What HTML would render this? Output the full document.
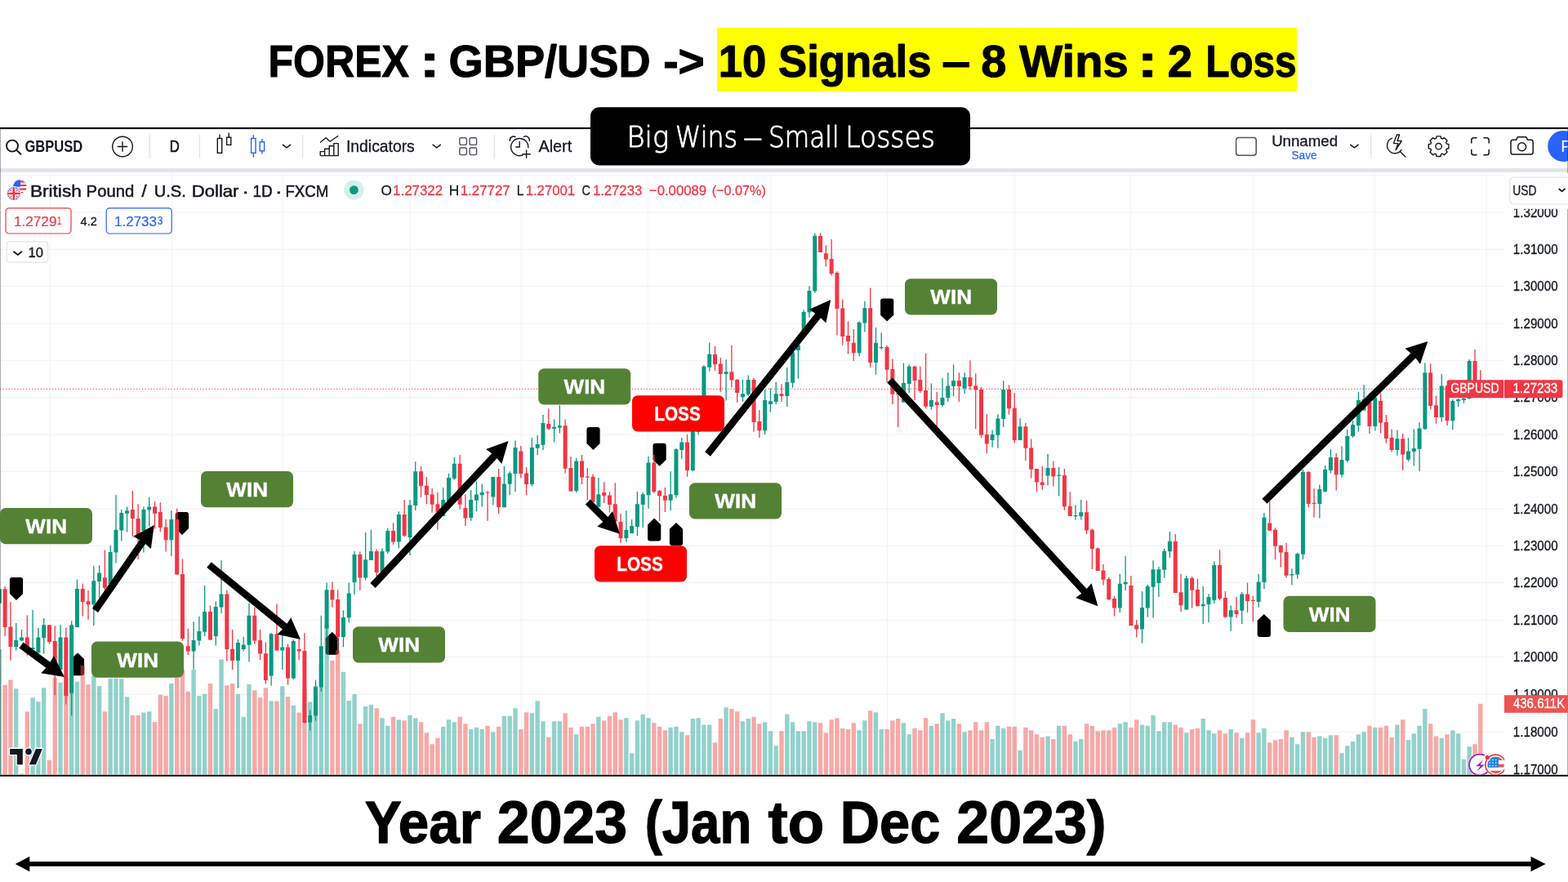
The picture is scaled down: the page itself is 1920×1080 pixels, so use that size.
<!DOCTYPE html>
<html lang="en"><head><meta charset="utf-8"><title>FOREX : GBP/USD - 10 Signals - 8 Wins : 2 Loss</title>
<style>
html,body{margin:0;padding:0;background:#fff;}
body{width:1920px;height:1080px;overflow:hidden;position:relative;font-family:"Liberation Sans",sans-serif;}
svg{position:absolute;left:0;top:0;display:block;}
svg text{font-family:"Liberation Sans",sans-serif;white-space:pre;}
</style></head><body>
<svg width="1920" height="1080" viewBox="0 0 1920 1080">
<g id="chrome-top">
<rect x="878" y="34" width="710" height="78" fill="#ffff00"/>
<text x="328.49" y="94.05" font-size="55.6" fill="#000" font-weight="700" textLength="172.53" lengthAdjust="spacingAndGlyphs" stroke="#000" stroke-width="1.1" stroke-linejoin="round">FOREX</text>
<text x="514.12" y="94.05" font-size="55.6" fill="#000" font-weight="700" textLength="24.3" lengthAdjust="spacingAndGlyphs" stroke="#000" stroke-width="1.1" stroke-linejoin="round">:</text>
<text x="549.58" y="94.05" font-size="55.6" fill="#000" font-weight="700" textLength="246.97" lengthAdjust="spacingAndGlyphs" stroke="#000" stroke-width="1.1" stroke-linejoin="round">GBP/USD</text>
<text x="812.28" y="94.05" font-size="55.6" fill="#000" font-weight="700" textLength="50.54" lengthAdjust="spacingAndGlyphs" stroke="#000" stroke-width="1.1" stroke-linejoin="round">-&gt;</text>
<text x="879.76" y="94.05" font-size="55.6" fill="#000" font-weight="700" textLength="260.77" lengthAdjust="spacingAndGlyphs" stroke="#000" stroke-width="1.1" stroke-linejoin="round">10 Signals</text>
<text x="1153.16" y="94.05" font-size="55.6" fill="#000" font-weight="700" textLength="35.1" lengthAdjust="spacingAndGlyphs" stroke="#000" stroke-width="1.1" stroke-linejoin="round">–</text>
<text x="1201.37" y="94.05" font-size="55.6" fill="#000" font-weight="700" textLength="180.27" lengthAdjust="spacingAndGlyphs" stroke="#000" stroke-width="1.1" stroke-linejoin="round">8 Wins</text>
<text x="1393.12" y="94.05" font-size="55.6" fill="#000" font-weight="700" textLength="24.3" lengthAdjust="spacingAndGlyphs" stroke="#000" stroke-width="1.1" stroke-linejoin="round">:</text>
<text x="1429.78" y="94.05" font-size="55.6" fill="#000" font-weight="700" textLength="30.27" lengthAdjust="spacingAndGlyphs" stroke="#000" stroke-width="1.1" stroke-linejoin="round">2</text>
<text x="1476.46" y="94.05" font-size="55.6" fill="#000" font-weight="700" textLength="111.05" lengthAdjust="spacingAndGlyphs" stroke="#000" stroke-width="1.1" stroke-linejoin="round">Loss</text>
<text x="446.64" y="1032.35" font-size="72" fill="#000" font-weight="700" textLength="142.41" lengthAdjust="spacingAndGlyphs" stroke="#000" stroke-width="1.3" stroke-linejoin="round">Year</text>
<text x="608.82" y="1032.35" font-size="72" fill="#000" font-weight="700" textLength="159.31" lengthAdjust="spacingAndGlyphs" stroke="#000" stroke-width="1.3" stroke-linejoin="round">2023</text>
<text x="789.63" y="1032.35" font-size="72" fill="#000" font-weight="700" textLength="130.61" lengthAdjust="spacingAndGlyphs" stroke="#000" stroke-width="1.3" stroke-linejoin="round">(Jan</text>
<text x="940.42" y="1032.35" font-size="72" fill="#000" font-weight="700" textLength="68.76" lengthAdjust="spacingAndGlyphs" stroke="#000" stroke-width="1.3" stroke-linejoin="round">to</text>
<text x="1028.81" y="1032.35" font-size="72" fill="#000" font-weight="700" textLength="122.51" lengthAdjust="spacingAndGlyphs" stroke="#000" stroke-width="1.3" stroke-linejoin="round">Dec</text>
<text x="1171.32" y="1032.35" font-size="72" fill="#000" font-weight="700" textLength="183.45" lengthAdjust="spacingAndGlyphs" stroke="#000" stroke-width="1.3" stroke-linejoin="round">2023)</text>
<path d="M18.7 1058 L36.3 1048.8 V1055.1 H1874.5 V1048.8 L1892.6 1058 L1874.5 1067.2 V1060.8 H36.3 V1067.2z" fill="#000"/>
<rect x="0" y="157" width="1920" height="49.3" fill="#fff"/>
<rect x="0" y="206.2" width="1920" height="4.6" fill="#e0e3eb"/>
<rect x="0" y="156" width="1920" height="2.1" fill="#000"/>
<path d="M183.2 165 V194 M244.5 165 V194 M370.5 165 V194 M605.3 165 V194 M1678.6 165 V194" stroke="#e0e3eb" stroke-width="1.3" fill="none"/>
<g fill="none" stroke="#131722" stroke-width="1.9" stroke-linecap="round"><circle cx="15" cy="178.6" r="7"/><path d="M20.2 183.8 L25.4 188.7"/></g>
<text x="30.44" y="186.1" font-size="20.2" fill="#131722" font-weight="700" textLength="70.84" lengthAdjust="spacingAndGlyphs">GBPUSD</text>
<g fill="none" stroke="#131722" stroke-width="1.4"><circle cx="150" cy="179.5" r="12.3"/><path d="M150 173.3 V185.7 M143.8 179.5 H156.2"/></g>
<text x="207.82" y="185.75" font-size="20.2" fill="#131722" textLength="12.02" lengthAdjust="spacingAndGlyphs" stroke="#131722" stroke-width="0.7" stroke-linejoin="round">D</text>
<g fill="none" stroke="#131722" stroke-width="1.4"><rect x="266.3" y="169.5" width="5.4" height="17.8"/><path d="M269 164.8 V169.5"/><rect x="277.6" y="168.2" width="5.2" height="9.2"/><path d="M280.2 162.5 V168.2"/></g>
<g fill="none" stroke="#2962ff" stroke-width="1.4"><rect x="307.6" y="169.5" width="5.4" height="17.8"/><path d="M310.3 165.3 V169.5 M310.3 187.3 V192.5"/><rect x="318.2" y="173.8" width="5.4" height="11"/><path d="M320.9 170 V173.8 M320.9 184.8 V188.5"/></g>
<path d="M346.4 177.3 l4.6 3.51 l4.6 -3.51" fill="none" stroke="#131722" stroke-width="1.5" stroke-linecap="round" stroke-linejoin="round"/>
<g fill="none" stroke="#131722" stroke-width="1.4" stroke-linejoin="round"><path d="M392 174.5 L399 168.8 L404.2 173.3 L414.2 166.3"/><path d="M392.2 190.6 V185.6 H397.6 V190.6 M397.6 190.6 V182.2 H403.2 V190.6 M403.2 190.6 V178.8 H408.8 V190.6 M408.8 190.6 V175.6 H414.2 V190.6 H392.2"/></g>
<text x="424.01" y="186.35" font-size="20.2" fill="#131722" textLength="83.73" lengthAdjust="spacingAndGlyphs" stroke="#131722" stroke-width="0.3" stroke-linejoin="round">Indicators</text>
<path d="M530.1 177.3 l4.6 3.51 l4.6 -3.51" fill="none" stroke="#131722" stroke-width="1.5" stroke-linecap="round" stroke-linejoin="round"/>
<g fill="none" stroke="#50535e" stroke-width="1.4"><rect x="562.8" y="168.8" width="8.6" height="8.6" rx="2"/><rect x="562.8" y="181" width="8.6" height="8.6" rx="2"/><rect x="575" y="168.8" width="8.6" height="8.6" rx="2"/><rect x="575" y="181" width="8.6" height="8.6" rx="2"/></g>
<g fill="none" stroke="#131722" stroke-width="1.4" stroke-linecap="round"><path d="M640 190 A10.6 10.6 0 1 1 646.8 180.8"/><path d="M624.4 172.4 A4.6 4.6 0 0 1 631 167.5 M641.4 167.5 A4.6 4.6 0 0 1 648.2 172.4"/><path d="M636.2 173.4 V180 H631.8"/><path d="M644.6 184 V193.4 M639.9 188.7 H649.3"/></g>
<text x="659.45" y="186.35" font-size="20.2" fill="#131722" textLength="40.72" lengthAdjust="spacingAndGlyphs" stroke="#131722" stroke-width="0.3" stroke-linejoin="round">Alert</text>
<rect x="1513.6" y="168.6" width="24.6" height="21.6" rx="3.2" fill="none" stroke="#50535e" stroke-width="1.5"/>
<text x="1557.15" y="179.25" font-size="18.6" fill="#131722" textLength="80.88" lengthAdjust="spacingAndGlyphs" stroke="#131722" stroke-width="0.3" stroke-linejoin="round">Unnamed</text>
<text x="1581.48" y="194.8" font-size="14" fill="#2962ff" textLength="31.22" lengthAdjust="spacingAndGlyphs" stroke="#2962ff" stroke-width="0.2" stroke-linejoin="round">Save</text>
<path d="M1653.8 177.3 l4.6 3.51 l4.6 -3.51" fill="none" stroke="#131722" stroke-width="1.5" stroke-linecap="round" stroke-linejoin="round"/>
<g fill="none" stroke="#131722" stroke-width="1.4" stroke-linecap="round" stroke-linejoin="round"><path d="M1704.5 169.2 A9.6 9.6 0 1 0 1716 183.6"/><path d="M1714.4 185.6 L1720.8 192"/><path d="M1710.5 165 L1706.5 175.6 H1712 L1709.2 183.5 L1716.2 172.5 H1711 L1713.6 165z"/></g>
<g fill="none" stroke="#131722" stroke-width="1.4" stroke-linejoin="round"><path d="M1759.1 166.85 L1764.1 166.85 L1764.61 169.46 L1766.36 170.18 L1768.56 168.7 L1772.1 172.24 L1770.62 174.44 L1771.34 176.18 L1773.95 176.7 L1773.95 181.7 L1771.34 182.21 L1770.62 183.96 L1772.1 186.16 L1768.56 189.7 L1766.36 188.22 L1764.62 188.94 L1764.1 191.55 L1759.1 191.55 L1758.59 188.94 L1756.84 188.22 L1754.64 189.7 L1751.1 186.16 L1752.58 183.96 L1751.86 182.22 L1749.25 181.7 L1749.25 176.7 L1751.86 176.19 L1752.58 174.44 L1751.1 172.24 L1754.64 168.7 L1756.84 170.18 L1758.58 169.46z"/><circle cx="1761.6" cy="179.2" r="3.7"/></g>
<path d="M1801.8 175 V171.6 Q1801.8 168.8 1804.6 168.8 H1808 M1817 168.8 H1820.4 Q1823.2 168.8 1823.2 171.6 V175 M1823.2 183.6 V187 Q1823.2 189.8 1820.4 189.8 H1817 M1808 189.8 H1804.6 Q1801.8 189.8 1801.8 187 V183.6" fill="none" stroke="#131722" stroke-width="1.5" stroke-linecap="round"/>
<g fill="none" stroke="#131722" stroke-width="1.5" stroke-linejoin="round"><path d="M1850 174 Q1850 171.2 1852.8 171.2 H1856.6 L1858.4 167.8 H1868.8 L1870.6 171.2 H1874.4 Q1877.2 171.2 1877.2 174 V186.2 Q1877.2 189 1874.4 189 H1852.8 Q1850 189 1850 186.2z"/><circle cx="1863.6" cy="179.8" r="5"/></g>
<circle cx="1914.2" cy="178.9" r="19" fill="#2962ff"/>
<text x="1911.2" y="185.9" font-size="19.8" fill="#fff">P</text>
</g>
<g id="chart">
<rect x="0" y="211" width="1920" height="739" fill="#ffffff"/>
<path d="M0 942 H1842 M0 896.4 H1842 M0 850.1 H1842 M0 804.5 H1842 M0 759.4 H1842 M0 713.5 H1842 M0 668.3 H1842 M0 623 H1842 M0 577.3 H1842 M0 532.2 H1842 M0 486.5 H1842 M0 441.3 H1842 M0 396.2 H1842 M0 350.6 H1842 M0 305.4 H1842 M0 260 H1842 M0 214.4 H1842 M61.1 211 V949 M210.6 211 V949 M346.3 211 V949 M502.2 211 V949 M638.1 211 V949 M793.2 211 V949 M943.8 211 V949 M1086.5 211 V949 M1242.3 211 V949 M1384.4 211 V949 M1534.4 211 V949 M1683.7 211 V949 M1820 211 V949" stroke="#f2f2f4" stroke-width="1" fill="none"/>
<path d="M11.9 710 Q11.9 707 14.9 707 H25.1 Q28.1 707 28.1 710 V727.1 L20 734.9 L11.9 727.1z M214.9 630 Q214.9 627 217.9 627 H228.1 Q231.1 627 231.1 630 V647.1 L223 654.9 L214.9 647.1z M86.9 824.2 Q86.9 827.2 89.9 827.2 H100.1 Q103.1 827.2 103.1 824.2 V807.1 L95 799.3 L86.9 807.1z M398.6 798.7 Q398.6 801.7 401.6 801.7 H411.8 Q414.8 801.7 414.8 798.7 V781.6 L406.7 773.8 L398.6 781.6z M718.4 526 Q718.4 523 721.4 523 H731.6 Q734.6 523 734.6 526 V543.1 L726.5 550.9 L718.4 543.1z M799.5 545.8 Q799.5 542.8 802.5 542.8 H812.7 Q815.7 542.8 815.7 545.8 V562.9 L807.6 570.7 L799.5 562.9z M793.1 659.5 Q793.1 662.5 796.1 662.5 H806.3 Q809.3 662.5 809.3 659.5 V642.4 L801.2 634.6 L793.1 642.4z M819.9 664.9 Q819.9 667.9 822.9 667.9 H833.1 Q836.1 667.9 836.1 664.9 V647.8 L828 640 L819.9 647.8z M1078.1 368.6 Q1078.1 365.6 1081.1 365.6 H1091.3 Q1094.3 365.6 1094.3 368.6 V385.7 L1086.2 393.5 L1078.1 385.7z M1539.7 776.9 Q1539.7 779.9 1542.7 779.9 H1552.9 Q1555.9 779.9 1555.9 776.9 V759.8 L1547.8 752 L1539.7 759.8z" fill="#000"/>
<path d="M-3.36 795 h5.4 V948.6 h-5.4 z M17.02 843.33 h5.4 V948.6 h-5.4 z M23.81 947.5 h5.4 V948.6 h-5.4 z M37.39 854.17 h5.4 V948.6 h-5.4 z M44.18 859.17 h5.4 V948.6 h-5.4 z M50.98 842.17 h5.4 V948.6 h-5.4 z M71.35 835.83 h5.4 V948.6 h-5.4 z M84.94 830.83 h5.4 V948.6 h-5.4 z M91.73 834.67 h5.4 V948.6 h-5.4 z M112.1 827.5 h5.4 V948.6 h-5.4 z M118.9 840 h5.4 V948.6 h-5.4 z M132.48 830.67 h5.4 V948.6 h-5.4 z M139.27 830.67 h5.4 V948.6 h-5.4 z M146.06 831.33 h5.4 V948.6 h-5.4 z M152.86 853.33 h5.4 V948.6 h-5.4 z M173.23 872.5 h5.4 V948.6 h-5.4 z M180.02 871.33 h5.4 V948.6 h-5.4 z M207.19 837 h5.4 V948.6 h-5.4 z M234.36 819.67 h5.4 V948.6 h-5.4 z M241.15 852 h5.4 V948.6 h-5.4 z M247.94 849.67 h5.4 V948.6 h-5.4 z M261.53 868 h5.4 V948.6 h-5.4 z M268.32 807.5 h5.4 V948.6 h-5.4 z M288.7 849.67 h5.4 V948.6 h-5.4 z M295.49 877.83 h5.4 V948.6 h-5.4 z M302.28 838 h5.4 V948.6 h-5.4 z M329.45 858.38 h5.4 V948.6 h-5.4 z M343.03 840.25 h5.4 V948.6 h-5.4 z M356.62 864 h5.4 V948.6 h-5.4 z M376.99 859.38 h5.4 V948.6 h-5.4 z M383.78 840 h5.4 V948.6 h-5.4 z M390.58 813.12 h5.4 V948.6 h-5.4 z M397.37 765 h5.4 V948.6 h-5.4 z M417.74 822.75 h5.4 V948.6 h-5.4 z M424.54 858.12 h5.4 V948.6 h-5.4 z M431.33 850 h5.4 V948.6 h-5.4 z M444.91 865 h5.4 V948.6 h-5.4 z M451.7 862.83 h5.4 V948.6 h-5.4 z M465.29 879.17 h5.4 V948.6 h-5.4 z M472.08 888.67 h5.4 V948.6 h-5.4 z M485.66 881.17 h5.4 V948.6 h-5.4 z M499.25 875.83 h5.4 V948.6 h-5.4 z M506.04 879.17 h5.4 V948.6 h-5.4 z M540 889.67 h5.4 V948.6 h-5.4 z M546.79 881.17 h5.4 V948.6 h-5.4 z M553.58 884.33 h5.4 V948.6 h-5.4 z M573.96 893 h5.4 V948.6 h-5.4 z M580.75 890.83 h5.4 V948.6 h-5.4 z M587.54 893 h5.4 V948.6 h-5.4 z M601.13 896.17 h5.4 V948.6 h-5.4 z M614.71 876.83 h5.4 V948.6 h-5.4 z M621.5 876.83 h5.4 V948.6 h-5.4 z M628.3 867.17 h5.4 V948.6 h-5.4 z M648.67 873.33 h5.4 V948.6 h-5.4 z M655.46 858.33 h5.4 V948.6 h-5.4 z M662.26 883.17 h5.4 V948.6 h-5.4 z M675.84 883.17 h5.4 V948.6 h-5.4 z M682.63 883.17 h5.4 V948.6 h-5.4 z M703.01 899.33 h5.4 V948.6 h-5.4 z M730.18 877.83 h5.4 V948.6 h-5.4 z M764.14 879.17 h5.4 V948.6 h-5.4 z M770.93 922.17 h5.4 V948.6 h-5.4 z M777.72 882.17 h5.4 V948.6 h-5.4 z M784.51 874.67 h5.4 V948.6 h-5.4 z M791.3 879.17 h5.4 V948.6 h-5.4 z M818.47 890.83 h5.4 V948.6 h-5.4 z M825.26 889.67 h5.4 V948.6 h-5.4 z M832.06 896.17 h5.4 V948.6 h-5.4 z M845.64 880 h5.4 V948.6 h-5.4 z M852.43 879.17 h5.4 V948.6 h-5.4 z M859.22 887.5 h5.4 V948.6 h-5.4 z M866.02 887.5 h5.4 V948.6 h-5.4 z M886.39 866.17 h5.4 V948.6 h-5.4 z M906.77 883.17 h5.4 V948.6 h-5.4 z M913.56 880 h5.4 V948.6 h-5.4 z M933.94 884.33 h5.4 V948.6 h-5.4 z M940.73 895.17 h5.4 V948.6 h-5.4 z M947.52 913.33 h5.4 V948.6 h-5.4 z M961.1 874.67 h5.4 V948.6 h-5.4 z M967.9 884.33 h5.4 V948.6 h-5.4 z M974.69 895.17 h5.4 V948.6 h-5.4 z M981.48 895.17 h5.4 V948.6 h-5.4 z M988.27 883.17 h5.4 V948.6 h-5.4 z M995.06 884.33 h5.4 V948.6 h-5.4 z M1049.4 894.17 h5.4 V948.6 h-5.4 z M1056.19 882.17 h5.4 V948.6 h-5.4 z M1069.78 872.33 h5.4 V948.6 h-5.4 z M1076.57 893 h5.4 V948.6 h-5.4 z M1103.74 885.33 h5.4 V948.6 h-5.4 z M1110.53 899.33 h5.4 V948.6 h-5.4 z M1137.7 888.67 h5.4 V948.6 h-5.4 z M1151.28 873.33 h5.4 V948.6 h-5.4 z M1158.07 882.17 h5.4 V948.6 h-5.4 z M1164.86 880 h5.4 V948.6 h-5.4 z M1178.45 896.17 h5.4 V948.6 h-5.4 z M1212.41 905 h5.4 V948.6 h-5.4 z M1219.2 888.67 h5.4 V948.6 h-5.4 z M1225.99 891.83 h5.4 V948.6 h-5.4 z M1246.37 918.83 h5.4 V948.6 h-5.4 z M1280.33 901.5 h5.4 V948.6 h-5.4 z M1293.91 888.67 h5.4 V948.6 h-5.4 z M1314.29 908 h5.4 V948.6 h-5.4 z M1321.08 905 h5.4 V948.6 h-5.4 z M1368.62 886.33 h5.4 V948.6 h-5.4 z M1375.42 884.33 h5.4 V948.6 h-5.4 z M1395.79 887.5 h5.4 V948.6 h-5.4 z M1402.58 888.67 h5.4 V948.6 h-5.4 z M1409.38 875.83 h5.4 V948.6 h-5.4 z M1416.17 895.17 h5.4 V948.6 h-5.4 z M1422.96 884.33 h5.4 V948.6 h-5.4 z M1429.75 884.33 h5.4 V948.6 h-5.4 z M1450.13 897.17 h5.4 V948.6 h-5.4 z M1470.5 880 h5.4 V948.6 h-5.4 z M1477.3 894.17 h5.4 V948.6 h-5.4 z M1484.09 898.33 h5.4 V948.6 h-5.4 z M1504.46 893 h5.4 V948.6 h-5.4 z M1518.05 903.83 h5.4 V948.6 h-5.4 z M1538.42 897.17 h5.4 V948.6 h-5.4 z M1545.22 891.83 h5.4 V948.6 h-5.4 z M1579.18 902.67 h5.4 V948.6 h-5.4 z M1585.97 911.17 h5.4 V948.6 h-5.4 z M1592.76 896.17 h5.4 V948.6 h-5.4 z M1613.14 901.5 h5.4 V948.6 h-5.4 z M1619.93 903.83 h5.4 V948.6 h-5.4 z M1626.72 900.33 h5.4 V948.6 h-5.4 z M1640.3 922.17 h5.4 V948.6 h-5.4 z M1647.1 913.33 h5.4 V948.6 h-5.4 z M1653.89 908 h5.4 V948.6 h-5.4 z M1660.68 899.33 h5.4 V948.6 h-5.4 z M1667.47 896.17 h5.4 V948.6 h-5.4 z M1681.06 890.83 h5.4 V948.6 h-5.4 z M1708.22 887.5 h5.4 V948.6 h-5.4 z M1721.81 906.17 h5.4 V948.6 h-5.4 z M1728.6 898.33 h5.4 V948.6 h-5.4 z M1735.39 888.67 h5.4 V948.6 h-5.4 z M1742.18 868 h5.4 V948.6 h-5.4 z M1762.56 903.83 h5.4 V948.6 h-5.4 z M1776.14 894.17 h5.4 V948.6 h-5.4 z M1782.94 898.33 h5.4 V948.6 h-5.4 z M1789.73 929.67 h5.4 V948.6 h-5.4 z M1796.52 914.33 h5.4 V948.6 h-5.4 z" fill="rgba(38,166,154,0.5)"/>
<path d="M3.43 838.83 h5.4 V948.6 h-5.4 z M10.22 832.5 h5.4 V948.6 h-5.4 z M30.6 871.17 h5.4 V948.6 h-5.4 z M57.77 930.83 h5.4 V948.6 h-5.4 z M64.56 830 h5.4 V948.6 h-5.4 z M78.14 829.17 h5.4 V948.6 h-5.4 z M98.52 815 h5.4 V948.6 h-5.4 z M105.31 838 h5.4 V948.6 h-5.4 z M125.69 871.17 h5.4 V948.6 h-5.4 z M159.65 875.83 h5.4 V948.6 h-5.4 z M166.44 875.83 h5.4 V948.6 h-5.4 z M186.82 884.17 h5.4 V948.6 h-5.4 z M193.61 850.83 h5.4 V948.6 h-5.4 z M200.4 852 h5.4 V948.6 h-5.4 z M213.98 830 h5.4 V948.6 h-5.4 z M220.78 820 h5.4 V948.6 h-5.4 z M227.57 846.67 h5.4 V948.6 h-5.4 z M254.74 837 h5.4 V948.6 h-5.4 z M275.11 839.17 h5.4 V948.6 h-5.4 z M281.9 837 h5.4 V948.6 h-5.4 z M309.07 845.33 h5.4 V948.6 h-5.4 z M315.86 854.17 h5.4 V948.6 h-5.4 z M322.66 842.25 h5.4 V948.6 h-5.4 z M336.24 858.38 h5.4 V948.6 h-5.4 z M349.82 853.12 h5.4 V948.6 h-5.4 z M363.41 872.5 h5.4 V948.6 h-5.4 z M370.2 843.75 h5.4 V948.6 h-5.4 z M404.16 808.75 h5.4 V948.6 h-5.4 z M410.95 796.25 h5.4 V948.6 h-5.4 z M438.12 886.25 h5.4 V948.6 h-5.4 z M458.5 867.17 h5.4 V948.6 h-5.4 z M478.87 877.83 h5.4 V948.6 h-5.4 z M492.46 882.17 h5.4 V948.6 h-5.4 z M512.83 884.33 h5.4 V948.6 h-5.4 z M519.62 897.17 h5.4 V948.6 h-5.4 z M526.42 911.17 h5.4 V948.6 h-5.4 z M533.21 903.83 h5.4 V948.6 h-5.4 z M560.38 877.83 h5.4 V948.6 h-5.4 z M567.17 886.33 h5.4 V948.6 h-5.4 z M594.34 888.67 h5.4 V948.6 h-5.4 z M607.92 889.67 h5.4 V948.6 h-5.4 z M635.09 893 h5.4 V948.6 h-5.4 z M641.88 872.33 h5.4 V948.6 h-5.4 z M669.05 902.67 h5.4 V948.6 h-5.4 z M689.42 873.33 h5.4 V948.6 h-5.4 z M696.22 890.83 h5.4 V948.6 h-5.4 z M709.8 889.67 h5.4 V948.6 h-5.4 z M716.59 889.67 h5.4 V948.6 h-5.4 z M723.38 886.33 h5.4 V948.6 h-5.4 z M736.97 882.17 h5.4 V948.6 h-5.4 z M743.76 876.83 h5.4 V948.6 h-5.4 z M750.55 872.33 h5.4 V948.6 h-5.4 z M757.34 881.17 h5.4 V948.6 h-5.4 z M798.1 885.33 h5.4 V948.6 h-5.4 z M804.89 889.67 h5.4 V948.6 h-5.4 z M811.68 894.17 h5.4 V948.6 h-5.4 z M838.85 900.33 h5.4 V948.6 h-5.4 z M872.81 909.17 h5.4 V948.6 h-5.4 z M879.6 880 h5.4 V948.6 h-5.4 z M893.18 868 h5.4 V948.6 h-5.4 z M899.98 871.33 h5.4 V948.6 h-5.4 z M920.35 877.83 h5.4 V948.6 h-5.4 z M927.14 886.33 h5.4 V948.6 h-5.4 z M954.31 895.17 h5.4 V948.6 h-5.4 z M1001.86 885.33 h5.4 V948.6 h-5.4 z M1008.65 897.17 h5.4 V948.6 h-5.4 z M1015.44 881.17 h5.4 V948.6 h-5.4 z M1022.23 879.17 h5.4 V948.6 h-5.4 z M1029.02 891.83 h5.4 V948.6 h-5.4 z M1035.82 893 h5.4 V948.6 h-5.4 z M1042.61 885.33 h5.4 V948.6 h-5.4 z M1062.98 870.17 h5.4 V948.6 h-5.4 z M1083.36 893 h5.4 V948.6 h-5.4 z M1090.15 882.17 h5.4 V948.6 h-5.4 z M1096.94 880 h5.4 V948.6 h-5.4 z M1117.32 891.83 h5.4 V948.6 h-5.4 z M1124.11 894.17 h5.4 V948.6 h-5.4 z M1130.9 879.17 h5.4 V948.6 h-5.4 z M1144.49 886.33 h5.4 V948.6 h-5.4 z M1171.66 886.33 h5.4 V948.6 h-5.4 z M1185.24 894.17 h5.4 V948.6 h-5.4 z M1192.03 884.33 h5.4 V948.6 h-5.4 z M1198.82 894.17 h5.4 V948.6 h-5.4 z M1205.62 884.33 h5.4 V948.6 h-5.4 z M1232.78 889.67 h5.4 V948.6 h-5.4 z M1239.58 889.67 h5.4 V948.6 h-5.4 z M1253.16 890.83 h5.4 V948.6 h-5.4 z M1259.95 894.17 h5.4 V948.6 h-5.4 z M1266.74 899.33 h5.4 V948.6 h-5.4 z M1273.54 902.67 h5.4 V948.6 h-5.4 z M1287.12 905 h5.4 V948.6 h-5.4 z M1300.7 888.67 h5.4 V948.6 h-5.4 z M1307.5 899.33 h5.4 V948.6 h-5.4 z M1327.87 886.33 h5.4 V948.6 h-5.4 z M1334.66 888.67 h5.4 V948.6 h-5.4 z M1341.46 895.17 h5.4 V948.6 h-5.4 z M1348.25 894.17 h5.4 V948.6 h-5.4 z M1355.04 894.17 h5.4 V948.6 h-5.4 z M1361.83 890.83 h5.4 V948.6 h-5.4 z M1382.21 890.83 h5.4 V948.6 h-5.4 z M1389 881.17 h5.4 V948.6 h-5.4 z M1436.54 887.5 h5.4 V948.6 h-5.4 z M1443.34 890.83 h5.4 V948.6 h-5.4 z M1456.92 893 h5.4 V948.6 h-5.4 z M1463.71 891.83 h5.4 V948.6 h-5.4 z M1490.88 894.17 h5.4 V948.6 h-5.4 z M1497.67 898.33 h5.4 V948.6 h-5.4 z M1511.26 897.17 h5.4 V948.6 h-5.4 z M1524.84 897.17 h5.4 V948.6 h-5.4 z M1531.63 881.17 h5.4 V948.6 h-5.4 z M1552.01 909.17 h5.4 V948.6 h-5.4 z M1558.8 906.17 h5.4 V948.6 h-5.4 z M1565.59 905 h5.4 V948.6 h-5.4 z M1572.38 894.17 h5.4 V948.6 h-5.4 z M1599.55 896.17 h5.4 V948.6 h-5.4 z M1606.34 902.67 h5.4 V948.6 h-5.4 z M1633.51 900.33 h5.4 V948.6 h-5.4 z M1674.26 888.67 h5.4 V948.6 h-5.4 z M1687.85 890.83 h5.4 V948.6 h-5.4 z M1694.64 888.67 h5.4 V948.6 h-5.4 z M1701.43 902.67 h5.4 V948.6 h-5.4 z M1715.02 881.17 h5.4 V948.6 h-5.4 z M1748.98 886.33 h5.4 V948.6 h-5.4 z M1755.77 901.5 h5.4 V948.6 h-5.4 z M1769.35 899.33 h5.4 V948.6 h-5.4 z M1803.31 911.17 h5.4 V948.6 h-5.4 z M1810.1 861.67 h5.4 V948.6 h-5.4 z" fill="rgba(239,83,80,0.5)"/>
<path d="M0 476.3 H1772" stroke="#f23645" stroke-width="1.1" stroke-dasharray="1.3 2.25" fill="none"/>
<path d="M-0.66 718.75 V741.25 M19.72 763.12 V796.5 M26.51 771 V785 M40.09 747.12 V795 M46.88 768.75 V799.38 M53.68 756.88 V800.62 M74.05 765.25 V820 M87.64 760.25 V876.25 M94.43 709.38 V768.12 M114.8 693.12 V766 M121.6 692.25 V732.5 M135.18 668.12 V715 M141.97 606.25 V689.38 M148.76 624 V662.5 M155.56 620.38 V651.62 M175.93 620.38 V676.62 M182.72 608.75 V645 M209.89 625 V680.88 M237.06 761.25 V819.38 M243.85 754.75 V790.62 M250.64 716.88 V779 M264.23 736.5 V790.62 M271.02 686.25 V751 M291.4 782.75 V842.5 M298.19 779.38 V797.5 M304.98 738.75 V810.62 M332.15 775 V839.38 M345.73 777.5 V820 M359.32 783.12 V831.88 M379.69 869.38 V894.38 M386.48 832.5 V882.5 M393.28 753.75 V846.88 M400.07 713.5 V780 M420.44 747.25 V791.88 M427.24 713.5 V762.5 M434.03 675 V728.12 M447.61 651.88 V710.62 M454.4 648.75 V686 M467.99 671.5 V702.5 M474.78 646.5 V677.88 M488.36 626.25 V671.25 M501.95 612.12 V680 M508.74 565.25 V625 M542.7 596.88 V631.88 M549.49 579.38 V615 M556.28 560 V587.75 M576.66 600.25 V637.75 M583.45 589.38 V625.88 M590.24 592.5 V620.38 M603.83 584 V618.5 M617.41 571 V621.25 M624.2 577.25 V606.25 M631 539.38 V601.88 M651.37 536.25 V595.62 M658.16 533.12 V556.88 M664.96 508.12 V551 M678.54 513.5 V541.5 M685.33 496.25 V530.62 M705.71 561 V603.12 M732.88 585 V621.25 M766.84 625 V663.75 M773.63 635.88 V652.88 M780.42 602.12 V656 M787.21 603.12 V646.25 M794 559 V622.75 M821.17 577.25 V625 M827.96 549 V609.75 M834.76 536.25 V562.12 M848.34 510 V577.25 M855.13 501.25 V531.88 M861.92 447.25 V510 M868.72 419.38 V454.75 M889.09 440.25 V490.62 M909.47 465 V491.88 M916.26 459.38 V485 M936.64 476.88 V531.88 M943.43 475.62 V504.75 M950.22 468.12 V495 M963.8 450 V498.12 M970.6 428.75 V474.75 M977.39 417.5 V463.75 M984.18 379.38 V411.88 M990.97 350.25 V388.75 M997.76 285.62 V358.75 M1052.1 393.38 V436.5 M1058.89 368.75 V406.5 M1072.48 401 V458.5 M1079.27 407.5 V427.75 M1106.44 444.38 V493.12 M1113.23 446.5 V481 M1140.4 469.38 V501.62 M1153.98 462.75 V498.12 M1160.77 456.25 V491.88 M1167.56 446.5 V485.25 M1181.15 456.25 V481.88 M1215.11 526.5 V547.75 M1221.9 507.25 V548.75 M1228.69 466.25 V522.75 M1249.07 512.25 V539.12 M1283.03 556 V594.38 M1296.61 572.12 V607.5 M1316.99 618.38 V636.5 M1323.78 612.12 V636.5 M1371.32 702.75 V750 M1378.12 681 V723.12 M1398.49 724.12 V787.75 M1405.28 715.88 V755.62 M1412.08 686.25 V756.5 M1418.87 694 V730.88 M1425.66 672.12 V707.75 M1432.45 651 V683.12 M1452.83 705 V746.62 M1473.2 717.88 V764 M1480 727.25 V761.88 M1486.79 687.25 V739 M1507.16 741.5 V772.75 M1520.75 725 V764 M1541.12 702.75 V743.75 M1547.92 628.12 V720.88 M1581.88 696.25 V716.25 M1588.67 676.88 V708.75 M1595.46 575 V685 M1615.84 593.5 V634.38 M1622.63 570 V602.5 M1629.42 550.25 V579.38 M1643 546.25 V584.38 M1649.8 525.62 V566.25 M1656.59 515 V536 M1663.38 480 V528.75 M1670.17 471.25 V503.12 M1683.76 482.5 V527.5 M1710.92 526.5 V557.75 M1724.51 536.25 V565.25 M1731.3 525.62 V570.62 M1738.09 517.25 V576.88 M1744.88 444.38 V526.25 M1765.26 458.12 V516.62 M1778.84 489 V526.25 M1785.64 488.12 V498.12 M1792.43 486.88 V493.75 M1799.22 440 V488.75" stroke="#089981" stroke-width="1.3" fill="none"/>
<path d="M-3.16 721.25 h5 V738.75 h-5 z M17.22 784 h5 V791.88 h-5 z M24.01 780.62 h5 V784.62 h-5 z M37.59 793.12 h5 V795 h-5 z M44.38 780.62 h5 V799.38 h-5 z M51.18 765.25 h5 V781.25 h-5 z M71.55 780.62 h5 V820 h-5 z M85.14 765.25 h5 V848.75 h-5 z M91.93 721 h5 V768.12 h-5 z M112.3 711.25 h5 V740.25 h-5 z M119.1 701.62 h5 V711.88 h-5 z M132.68 676 h5 V715 h-5 z M139.47 648.75 h5 V676.5 h-5 z M146.26 628.12 h5 V649.38 h-5 z M153.06 625.25 h5 V628.75 h-5 z M173.43 624 h5 V650 h-5 z M180.22 620.62 h5 V624.62 h-5 z M207.39 635.88 h5 V661.25 h-5 z M234.56 784 h5 V797.5 h-5 z M241.35 773.12 h5 V784.38 h-5 z M248.14 749.12 h5 V773.75 h-5 z M261.73 742.88 h5 V779 h-5 z M268.52 727.5 h5 V743.5 h-5 z M288.9 787.12 h5 V809.12 h-5 z M295.69 789.38 h5 V795 h-5 z M302.48 753.75 h5 V789.75 h-5 z M329.65 776.25 h5 V827.5 h-5 z M343.23 792.5 h5 V796.5 h-5 z M356.82 785 h5 V830.62 h-5 z M377.19 875.88 h5 V884.62 h-5 z M383.98 841.25 h5 V876.25 h-5 z M390.78 791.25 h5 V841.62 h-5 z M397.57 722.25 h5 V769.38 h-5 z M417.94 755.88 h5 V780 h-5 z M424.74 726.5 h5 V756.25 h-5 z M431.53 679 h5 V713.12 h-5 z M445.11 685.25 h5 V707.5 h-5 z M451.9 675 h5 V686 h-5 z M465.49 675 h5 V700 h-5 z M472.28 650 h5 V675.38 h-5 z M485.86 630 h5 V663.5 h-5 z M499.45 618.5 h5 V658.12 h-5 z M506.24 577.25 h5 V619 h-5 z M540.2 612.12 h5 V631.88 h-5 z M546.99 585 h5 V613.75 h-5 z M553.78 567.75 h5 V586 h-5 z M574.16 612.12 h5 V634 h-5 z M580.95 605.38 h5 V612.75 h-5 z M587.74 603.12 h5 V606.25 h-5 z M601.33 584 h5 V608.5 h-5 z M614.91 592.5 h5 V621.25 h-5 z M621.7 579.38 h5 V592.75 h-5 z M628.5 548.12 h5 V580 h-5 z M648.87 548.12 h5 V593.12 h-5 z M655.66 544 h5 V548.75 h-5 z M662.46 518.12 h5 V544.75 h-5 z M676.04 523.12 h5 V525 h-5 z M682.83 521.25 h5 V523.75 h-5 z M703.21 564.38 h5 V600.88 h-5 z M730.38 605.25 h5 V620.62 h-5 z M764.34 648.75 h5 V659 h-5 z M771.13 644 h5 V652.88 h-5 z M777.92 617.25 h5 V645 h-5 z M784.71 605.25 h5 V618.12 h-5 z M791.5 566.5 h5 V606.25 h-5 z M818.67 605.25 h5 V612.75 h-5 z M825.46 550.25 h5 V606.25 h-5 z M832.26 541.5 h5 V551 h-5 z M845.84 520 h5 V576 h-5 z M852.63 510 h5 V528.75 h-5 z M859.42 448.75 h5 V510 h-5 z M866.22 433.75 h5 V449.75 h-5 z M886.59 455.25 h5 V457.88 h-5 z M906.97 482.25 h5 V486.25 h-5 z M913.76 465 h5 V483.12 h-5 z M934.14 490 h5 V527.25 h-5 z M940.93 491.25 h5 V495 h-5 z M947.72 482.25 h5 V491.88 h-5 z M961.3 468.12 h5 V485 h-5 z M968.1 431.25 h5 V468.75 h-5 z M974.89 422.5 h5 V429 h-5 z M981.68 381.88 h5 V411.25 h-5 z M988.47 356 h5 V382.5 h-5 z M995.26 288.75 h5 V356.5 h-5 z M1049.6 394.75 h5 V432.25 h-5 z M1056.39 377.25 h5 V395.62 h-5 z M1069.98 419.75 h5 V444 h-5 z M1076.77 425 h5 V426.25 h-5 z M1103.94 469 h5 V492.5 h-5 z M1110.73 448.75 h5 V470 h-5 z M1137.9 490 h5 V498.12 h-5 z M1151.48 486.88 h5 V496 h-5 z M1158.27 472.5 h5 V487.25 h-5 z M1165.06 466 h5 V473.12 h-5 z M1178.65 461.88 h5 V475.62 h-5 z M1212.61 532.12 h5 V539.12 h-5 z M1219.4 512.5 h5 V532.75 h-5 z M1226.19 476.88 h5 V513.12 h-5 z M1246.57 522.25 h5 V539.12 h-5 z M1280.53 573.12 h5 V582.5 h-5 z M1294.11 581.5 h5 V582.75 h-5 z M1314.49 631 h5 V632.25 h-5 z M1321.28 627.25 h5 V632.25 h-5 z M1368.82 714.75 h5 V744.62 h-5 z M1375.62 712.75 h5 V715.25 h-5 z M1395.99 744 h5 V770.62 h-5 z M1402.78 717.88 h5 V744.62 h-5 z M1409.58 697.25 h5 V718.75 h-5 z M1416.37 697.25 h5 V714 h-5 z M1423.16 674.75 h5 V697.75 h-5 z M1429.95 662.75 h5 V675.25 h-5 z M1450.33 708.12 h5 V746.62 h-5 z M1470.7 739.75 h5 V742.25 h-5 z M1477.5 730.88 h5 V740 h-5 z M1484.29 692.12 h5 V734.75 h-5 z M1504.66 747.25 h5 V755.62 h-5 z M1518.25 727.5 h5 V747.75 h-5 z M1538.62 712.5 h5 V736.88 h-5 z M1545.42 633.75 h5 V713.12 h-5 z M1579.38 703.12 h5 V704.38 h-5 z M1586.17 678.12 h5 V703.5 h-5 z M1592.96 578.12 h5 V678.75 h-5 z M1613.34 599 h5 V616.88 h-5 z M1620.13 575 h5 V601.88 h-5 z M1626.92 560 h5 V576 h-5 z M1640.5 563.12 h5 V581.25 h-5 z M1647.3 534 h5 V564 h-5 z M1654.09 520 h5 V534 h-5 z M1660.88 490 h5 V521 h-5 z M1667.67 488.75 h5 V502.5 h-5 z M1681.26 486.88 h5 V521.88 h-5 z M1708.42 537.25 h5 V551 h-5 z M1722.01 552.5 h5 V562.75 h-5 z M1728.8 549.12 h5 V553.12 h-5 z M1735.59 524.38 h5 V549.75 h-5 z M1742.38 456.25 h5 V525.25 h-5 z M1762.76 472.5 h5 V511 h-5 z M1776.34 491 h5 V515.25 h-5 z M1783.14 489 h5 V491.25 h-5 z M1789.93 488.12 h5 V490 h-5 z M1796.72 441.88 h5 V488.12 h-5 z" fill="#089981"/>
<path d="M6.13 718.12 V779 M12.92 737.25 V808.5 M33.3 753.5 V802.75 M60.47 765.25 V788.75 M67.26 766.25 V851.25 M80.84 768.5 V862.5 M101.22 714.75 V754.38 M108.01 723.12 V758.75 M128.39 673.5 V723.75 M162.35 601.25 V656.88 M169.14 617.25 V685 M189.52 614.12 V647.5 M196.31 615.25 V651.62 M203.1 635.88 V675.62 M216.68 622.75 V703.5 M223.48 684.38 V784.62 M230.27 769.75 V801.88 M257.44 741.62 V783.5 M277.81 722.5 V809.38 M284.6 771 V820 M311.77 743.75 V788.75 M318.56 771 V808.12 M325.36 786.25 V837.5 M338.94 739.38 V796.5 M352.52 788.38 V838.5 M366.11 783.12 V808.12 M372.9 775.25 V885.62 M406.86 712.5 V743.5 M413.65 722.25 V797.5 M440.82 675.62 V722.75 M461.2 672.5 V706.25 M481.57 640.25 V666.88 M495.16 612.12 V657.25 M515.53 571 V608.75 M522.32 584 V617.25 M529.12 598.12 V627.75 M535.91 603.12 V648.75 M563.08 557.12 V623.75 M569.87 605.62 V644 M597.04 601.25 V637.75 M610.62 574 V629 M637.79 546 V585.62 M644.58 571.88 V606.25 M671.75 500.62 V526.5 M692.12 513.5 V579.38 M698.92 559 V601.62 M712.5 556.88 V593.12 M719.29 573.12 V612.5 M726.08 580.38 V620 M739.67 590.25 V616 M746.46 602.25 V627.5 M753.25 591.25 V640 M760.04 629 V664.75 M800.8 556.88 V604 M807.59 600 V637.75 M814.38 596.88 V626.88 M841.55 531.88 V583.75 M875.51 424 V453.75 M882.3 438.12 V479.75 M895.88 422.75 V474.38 M902.68 464 V492.75 M923.05 462.75 V528.75 M929.84 501.88 V536 M957.01 470.25 V491.88 M1004.56 285.25 V309 M1011.35 300.62 V326.25 M1018.14 293.12 V337.25 M1024.93 332.25 V410.62 M1031.72 366.5 V422.75 M1038.52 393.38 V433.5 M1045.31 403.12 V441.88 M1065.68 352.5 V449.75 M1086.06 423.12 V468.12 M1092.85 439.38 V495 M1099.64 481.88 V523.12 M1120.02 447.75 V490 M1126.81 448.75 V481 M1133.6 432.5 V500.62 M1147.19 480 V522.5 M1174.36 456.25 V491.88 M1187.94 441.25 V477.5 M1194.73 457.5 V525.25 M1201.52 473.75 V536 M1208.32 507.25 V555.62 M1235.48 471.5 V507.75 M1242.28 481.25 V542.5 M1255.86 518.12 V564 M1262.65 537.5 V585.62 M1269.44 574.12 V601.88 M1276.24 571 V600 M1289.82 564.38 V595.62 M1303.4 574.12 V624.75 M1310.2 602.25 V632.12 M1330.57 613.12 V653.75 M1337.36 647.5 V696.88 M1344.16 670.25 V699 M1350.95 690.88 V716.5 M1357.74 707.12 V735 M1364.53 730 V754.62 M1384.91 705 V766 M1391.7 759 V780.25 M1439.24 654 V725.88 M1446.04 702.75 V749 M1459.62 706 V744.75 M1466.41 709.12 V742.25 M1493.58 673.5 V735 M1500.37 724.12 V756.62 M1513.96 730.88 V756.62 M1527.54 713.5 V750 M1534.33 729.75 V761 M1554.71 613.75 V650.62 M1561.5 646.25 V685 M1568.29 667.5 V694.75 M1575.08 665 V707.5 M1602.25 576.88 V621.25 M1609.04 598.12 V633.5 M1636.21 555 V600.62 M1676.96 481.25 V531 M1690.55 481.25 V530.62 M1697.34 508.12 V542.75 M1704.13 525.62 V553.5 M1717.72 531 V576 M1751.68 445.25 V501.25 M1758.47 484.38 V518.75 M1772.05 471.25 V521 M1806.01 428.12 V476.25 M1812.8 453.25 V486.25" stroke="#f23645" stroke-width="1.3" fill="none"/>
<path d="M3.63 721.25 h5 V768.12 h-5 z M10.42 767.5 h5 V791.88 h-5 z M30.8 780.62 h5 V792.5 h-5 z M57.97 765.25 h5 V785.88 h-5 z M64.76 785 h5 V812.5 h-5 z M78.34 780.62 h5 V852 h-5 z M98.72 721 h5 V736.88 h-5 z M105.51 736.25 h5 V740.25 h-5 z M125.89 707.25 h5 V719.75 h-5 z M159.85 624 h5 V635 h-5 z M166.64 635 h5 V655 h-5 z M187.02 620.62 h5 V628.75 h-5 z M193.81 627.12 h5 V645.88 h-5 z M200.6 645.38 h5 V661.25 h-5 z M214.18 635.88 h5 V703.5 h-5 z M220.98 702.88 h5 V781.88 h-5 z M227.77 791.25 h5 V797.5 h-5 z M254.94 749.12 h5 V783.5 h-5 z M275.31 727.5 h5 V795 h-5 z M282.1 794.75 h5 V809.12 h-5 z M309.27 753.75 h5 V784.62 h-5 z M316.06 784 h5 V800.62 h-5 z M322.86 800.25 h5 V832.88 h-5 z M336.44 776.25 h5 V796.5 h-5 z M350.02 792.5 h5 V830.62 h-5 z M363.61 795 h5 V797.5 h-5 z M370.4 796.88 h5 V885 h-5 z M404.36 722.25 h5 V734.62 h-5 z M411.15 734.12 h5 V780 h-5 z M438.32 679 h5 V707.5 h-5 z M458.7 675 h5 V701 h-5 z M479.07 650 h5 V663.5 h-5 z M492.66 630 h5 V656 h-5 z M513.03 577.25 h5 V595.25 h-5 z M519.82 594.75 h5 V606 h-5 z M526.62 605.38 h5 V617.75 h-5 z M533.41 617.25 h5 V627.5 h-5 z M560.58 567.75 h5 V617.75 h-5 z M567.37 621.88 h5 V634.38 h-5 z M594.54 602.4 h5 V603.6 h-5 z M608.12 584 h5 V621 h-5 z M635.29 552.5 h5 V580 h-5 z M642.08 579.62 h5 V593.12 h-5 z M669.25 519 h5 V525.25 h-5 z M689.62 521.25 h5 V573.75 h-5 z M696.42 573.12 h5 V601.62 h-5 z M710 564.38 h5 V584.62 h-5 z M716.79 583.59 h5 V584.79 h-5 z M723.58 583.75 h5 V615 h-5 z M737.17 603.12 h5 V607.25 h-5 z M743.96 606.5 h5 V618.12 h-5 z M750.75 617.25 h5 V638.75 h-5 z M757.54 639 h5 V659 h-5 z M798.3 566.5 h5 V601.88 h-5 z M805.09 601 h5 V607.25 h-5 z M811.88 606.88 h5 V612.75 h-5 z M839.05 541.5 h5 V576 h-5 z M873.01 433.75 h5 V446.25 h-5 z M879.8 445.62 h5 V457.88 h-5 z M893.38 455.25 h5 V465.62 h-5 z M900.18 465 h5 V480.88 h-5 z M920.55 465 h5 V516.88 h-5 z M927.34 516 h5 V527.25 h-5 z M954.51 482.25 h5 V485 h-5 z M1002.06 288.75 h5 V309 h-5 z M1008.85 310.25 h5 V317.75 h-5 z M1015.64 316.88 h5 V335 h-5 z M1022.43 334 h5 V378.12 h-5 z M1029.22 377.5 h5 V411.88 h-5 z M1036.02 411 h5 V418.12 h-5 z M1042.81 419.75 h5 V432.25 h-5 z M1063.18 377.25 h5 V444 h-5 z M1083.56 425 h5 V452.75 h-5 z M1090.35 452.12 h5 V482.75 h-5 z M1097.14 481.88 h5 V483.12 h-5 z M1117.52 448.75 h5 V465.88 h-5 z M1124.31 465 h5 V478.75 h-5 z M1131.1 477.88 h5 V497.75 h-5 z M1144.69 492.25 h5 V496 h-5 z M1171.86 466 h5 V473.12 h-5 z M1185.44 461.88 h5 V473.12 h-5 z M1192.23 472.5 h5 V477.5 h-5 z M1199.02 476.88 h5 V532.75 h-5 z M1205.82 532.12 h5 V543.5 h-5 z M1232.98 476.88 h5 V500.25 h-5 z M1239.78 499.75 h5 V539.12 h-5 z M1253.36 522.25 h5 V548.75 h-5 z M1260.15 548.38 h5 V574.75 h-5 z M1266.94 574.12 h5 V590.62 h-5 z M1273.74 590.38 h5 V594 h-5 z M1287.32 573.12 h5 V583.5 h-5 z M1300.9 581.88 h5 V620.25 h-5 z M1307.7 619.75 h5 V632.12 h-5 z M1328.07 627.25 h5 V649.38 h-5 z M1334.86 648.75 h5 V671.88 h-5 z M1341.66 671.5 h5 V699 h-5 z M1348.45 698.5 h5 V709.75 h-5 z M1355.24 709.12 h5 V734 h-5 z M1362.03 733.12 h5 V744.62 h-5 z M1382.41 716.88 h5 V766 h-5 z M1389.2 765.25 h5 V770.62 h-5 z M1436.74 662.75 h5 V725.88 h-5 z M1443.54 725.25 h5 V741.25 h-5 z M1457.12 708.12 h5 V722.75 h-5 z M1463.91 722.12 h5 V742.25 h-5 z M1491.08 692.12 h5 V732.88 h-5 z M1497.87 732.12 h5 V755.62 h-5 z M1511.46 747.25 h5 V751.88 h-5 z M1525.04 727.5 h5 V735.88 h-5 z M1531.83 734.77 h5 V735.98 h-5 z M1552.21 640.38 h5 V649.75 h-5 z M1559 648.75 h5 V668.75 h-5 z M1565.79 668.12 h5 V676.5 h-5 z M1572.58 676 h5 V704.75 h-5 z M1599.75 578.12 h5 V616.88 h-5 z M1606.54 615.84 h5 V617.04 h-5 z M1633.71 560 h5 V581.25 h-5 z M1674.46 492.5 h5 V521.88 h-5 z M1688.05 491 h5 V517.75 h-5 z M1694.84 516.88 h5 V536.88 h-5 z M1701.63 536 h5 V551 h-5 z M1715.22 537.25 h5 V556.5 h-5 z M1749.18 456.25 h5 V496.88 h-5 z M1755.97 496.25 h5 V511 h-5 z M1769.55 472.5 h5 V515.25 h-5 z M1803.51 441.88 h5 V471.62 h-5 z M1810.3 471.62 h5 V475.62 h-5 z" fill="#f23645"/>
</g>
<g id="chrome-after">
<rect x="0" y="158" width="1" height="791" fill="#000" fill-opacity="0.32"/><rect x="1919" y="158" width="1" height="791" fill="#000" fill-opacity="0.3"/>
<g><circle cx="24.4" cy="228.6" r="8.3" fill="#fff"/><clipPath id="cu"><circle cx="24.4" cy="228.6" r="8.3"/></clipPath><g clip-path="url(#cu)"><rect x="16" y="220" width="17" height="17" fill="#fff"/><path d="M16 222.4 H33 M16 227 H33 M16 231.6 H33 M16 236 H33" stroke="#f23645" stroke-width="2.2"/><rect x="16" y="220" width="9" height="8.8" fill="#2962ff"/></g>
<circle cx="16.8" cy="237" r="9" fill="#fff"/><clipPath id="ck"><circle cx="16.8" cy="237" r="8"/></clipPath><g clip-path="url(#ck)"><rect x="8" y="228" width="18" height="18" fill="#3d5bd8"/><path d="M8 228 L26 246 M26 228 L8 246" stroke="#fff" stroke-width="3.4"/><path d="M8 228 L26 246 M26 228 L8 246" stroke="#f23645" stroke-width="1.2"/><path d="M16.8 228 V246 M8 237 H26" stroke="#fff" stroke-width="5"/><path d="M16.8 228 V246 M8 237 H26" stroke="#f23645" stroke-width="2.6"/></g></g>
<text x="36.94" y="240.95" font-size="20.2" fill="#131722" textLength="62.84" lengthAdjust="spacingAndGlyphs" stroke="#131722" stroke-width="0.5" stroke-linejoin="round">British</text>
<text x="105.63" y="240.95" font-size="20.2" fill="#131722" textLength="58.62" lengthAdjust="spacingAndGlyphs" stroke="#131722" stroke-width="0.5" stroke-linejoin="round">Pound</text>
<text x="173.55" y="240.95" font-size="20.2" fill="#131722" textLength="6.05" lengthAdjust="spacingAndGlyphs" stroke="#131722" stroke-width="0.5" stroke-linejoin="round">/</text>
<text x="188.74" y="240.95" font-size="20.2" fill="#131722" textLength="39.12" lengthAdjust="spacingAndGlyphs" stroke="#131722" stroke-width="0.5" stroke-linejoin="round">U.S.</text>
<text x="234.78" y="240.95" font-size="20.2" fill="#131722" textLength="57.69" lengthAdjust="spacingAndGlyphs" stroke="#131722" stroke-width="0.5" stroke-linejoin="round">Dollar</text>
<text x="296" y="240.95" font-size="20.2" fill="#131722" textLength="9.22" lengthAdjust="spacingAndGlyphs" stroke="#131722" stroke-width="0.5" stroke-linejoin="round">·</text>
<text x="309.53" y="240.95" font-size="20.2" fill="#131722" textLength="24.13" lengthAdjust="spacingAndGlyphs" stroke="#131722" stroke-width="0.5" stroke-linejoin="round">1D</text>
<text x="336.7" y="240.95" font-size="20.2" fill="#131722" textLength="9.22" lengthAdjust="spacingAndGlyphs" stroke="#131722" stroke-width="0.5" stroke-linejoin="round">·</text>
<text x="349.45" y="240.95" font-size="20.2" fill="#131722" textLength="53" lengthAdjust="spacingAndGlyphs" stroke="#131722" stroke-width="0.5" stroke-linejoin="round">FXCM</text>
<circle cx="433.4" cy="232.6" r="12.2" fill="#d6efe9"/><circle cx="433.4" cy="232.6" r="5.4" fill="#089981"/>
<text x="466.38" y="239.05" font-size="17.4" fill="#131722" textLength="13.29" lengthAdjust="spacingAndGlyphs" stroke="#131722" stroke-width="0.3" stroke-linejoin="round">O</text>
<text x="481.08" y="239.05" font-size="17.4" fill="#f23645" textLength="61.01" lengthAdjust="spacingAndGlyphs" stroke="#f23645" stroke-width="0.3" stroke-linejoin="round">1.27322</text>
<text x="549.77" y="239.05" font-size="17.4" fill="#131722" textLength="12.45" lengthAdjust="spacingAndGlyphs" stroke="#131722" stroke-width="0.3" stroke-linejoin="round">H</text>
<text x="563.68" y="239.05" font-size="17.4" fill="#f23645" textLength="61.01" lengthAdjust="spacingAndGlyphs" stroke="#f23645" stroke-width="0.3" stroke-linejoin="round">1.27727</text>
<text x="632.71" y="239.05" font-size="17.4" fill="#131722" textLength="8.62" lengthAdjust="spacingAndGlyphs" stroke="#131722" stroke-width="0.3" stroke-linejoin="round">L</text>
<text x="643.7" y="239.05" font-size="17.4" fill="#f23645" textLength="60.39" lengthAdjust="spacingAndGlyphs" stroke="#f23645" stroke-width="0.3" stroke-linejoin="round">1.27001</text>
<text x="712.43" y="239.05" font-size="17.4" fill="#131722" textLength="10.46" lengthAdjust="spacingAndGlyphs" stroke="#131722" stroke-width="0.3" stroke-linejoin="round">C</text>
<text x="725.9" y="239.05" font-size="17.4" fill="#f23645" textLength="60.3" lengthAdjust="spacingAndGlyphs" stroke="#f23645" stroke-width="0.3" stroke-linejoin="round">1.27233</text>
<text x="794.86" y="239.05" font-size="17.4" fill="#f23645" textLength="70.27" lengthAdjust="spacingAndGlyphs" stroke="#f23645" stroke-width="0.3" stroke-linejoin="round">−0.00089</text>
<text x="871.68" y="239.05" font-size="17.4" fill="#f23645" textLength="66.15" lengthAdjust="spacingAndGlyphs" stroke="#f23645" stroke-width="0.3" stroke-linejoin="round">(−0.07%)</text>
<rect x="7" y="254.8" width="80" height="31.2" rx="4" fill="#fff" stroke="#f23645" stroke-width="1.2"/>
<text x="16.91" y="276.8" font-size="16.4" fill="#f23645" textLength="52.58" lengthAdjust="spacingAndGlyphs" stroke="#f23645" stroke-width="0.2" stroke-linejoin="round">1.2729</text>
<text x="69.97" y="274.5" font-size="14" fill="#f23645" textLength="5.4" lengthAdjust="spacingAndGlyphs" stroke="#f23645" stroke-width="0.2" stroke-linejoin="round">1</text>
<text x="98.62" y="275.95" font-size="14.6" fill="#131722" textLength="20.12" lengthAdjust="spacingAndGlyphs" stroke="#131722" stroke-width="0.3" stroke-linejoin="round">4.2</text>
<rect x="130.2" y="254.8" width="80" height="31.2" rx="4" fill="#fff" stroke="#2962ff" stroke-width="1.2"/>
<text x="140.13" y="276.8" font-size="16.4" fill="#2962ff" textLength="51.81" lengthAdjust="spacingAndGlyphs" stroke="#2962ff" stroke-width="0.2" stroke-linejoin="round">1.2733</text>
<text x="192.75" y="274.5" font-size="14" fill="#2962ff" textLength="6.67" lengthAdjust="spacingAndGlyphs" stroke="#2962ff" stroke-width="0.2" stroke-linejoin="round">3</text>
<rect x="8.2" y="295.8" width="50.4" height="25.4" rx="3.5" fill="#fff" stroke="#e0e3eb" stroke-width="1.2"/>
<path d="M17 308.2 l4.8 3.78 l4.8 -3.78" fill="none" stroke="#131722" stroke-width="1.8" stroke-linecap="round" stroke-linejoin="round"/>
<text x="34.5" y="314.65" font-size="16.8" fill="#131722" textLength="18.51" lengthAdjust="spacingAndGlyphs" stroke="#131722" stroke-width="0.3" stroke-linejoin="round">10</text>
<text x="1852.81" y="947.85" font-size="15.6" fill="#131722" textLength="54.84" lengthAdjust="spacingAndGlyphs" stroke="#131722" stroke-width="0.3" stroke-linejoin="round">1.17000</text>
<text x="1852.81" y="902.25" font-size="15.6" fill="#131722" textLength="54.84" lengthAdjust="spacingAndGlyphs" stroke="#131722" stroke-width="0.3" stroke-linejoin="round">1.18000</text>
<text x="1852.81" y="855.95" font-size="15.6" fill="#131722" textLength="54.84" lengthAdjust="spacingAndGlyphs" stroke="#131722" stroke-width="0.3" stroke-linejoin="round">1.19000</text>
<text x="1852.81" y="810.35" font-size="15.6" fill="#131722" textLength="54.84" lengthAdjust="spacingAndGlyphs" stroke="#131722" stroke-width="0.3" stroke-linejoin="round">1.20000</text>
<text x="1852.81" y="765.25" font-size="15.6" fill="#131722" textLength="54.84" lengthAdjust="spacingAndGlyphs" stroke="#131722" stroke-width="0.3" stroke-linejoin="round">1.21000</text>
<text x="1852.81" y="719.35" font-size="15.6" fill="#131722" textLength="54.84" lengthAdjust="spacingAndGlyphs" stroke="#131722" stroke-width="0.3" stroke-linejoin="round">1.22000</text>
<text x="1852.81" y="674.15" font-size="15.6" fill="#131722" textLength="54.84" lengthAdjust="spacingAndGlyphs" stroke="#131722" stroke-width="0.3" stroke-linejoin="round">1.23000</text>
<text x="1852.81" y="628.85" font-size="15.6" fill="#131722" textLength="54.84" lengthAdjust="spacingAndGlyphs" stroke="#131722" stroke-width="0.3" stroke-linejoin="round">1.24000</text>
<text x="1852.81" y="583.15" font-size="15.6" fill="#131722" textLength="54.84" lengthAdjust="spacingAndGlyphs" stroke="#131722" stroke-width="0.3" stroke-linejoin="round">1.25000</text>
<text x="1852.81" y="538.05" font-size="15.6" fill="#131722" textLength="54.84" lengthAdjust="spacingAndGlyphs" stroke="#131722" stroke-width="0.3" stroke-linejoin="round">1.26000</text>
<text x="1852.81" y="492.35" font-size="15.6" fill="#131722" textLength="54.84" lengthAdjust="spacingAndGlyphs" stroke="#131722" stroke-width="0.3" stroke-linejoin="round">1.27000</text>
<text x="1852.81" y="447.15" font-size="15.6" fill="#131722" textLength="54.84" lengthAdjust="spacingAndGlyphs" stroke="#131722" stroke-width="0.3" stroke-linejoin="round">1.28000</text>
<text x="1852.81" y="402.05" font-size="15.6" fill="#131722" textLength="54.84" lengthAdjust="spacingAndGlyphs" stroke="#131722" stroke-width="0.3" stroke-linejoin="round">1.29000</text>
<text x="1852.81" y="356.45" font-size="15.6" fill="#131722" textLength="54.84" lengthAdjust="spacingAndGlyphs" stroke="#131722" stroke-width="0.3" stroke-linejoin="round">1.30000</text>
<text x="1852.81" y="311.25" font-size="15.6" fill="#131722" textLength="54.84" lengthAdjust="spacingAndGlyphs" stroke="#131722" stroke-width="0.3" stroke-linejoin="round">1.31000</text>
<text x="1852.81" y="265.85" font-size="15.6" fill="#131722" textLength="54.84" lengthAdjust="spacingAndGlyphs" stroke="#131722" stroke-width="0.3" stroke-linejoin="round">1.32000</text>
<rect x="1846" y="212" width="74" height="43.8" fill="#fff"/>
<rect x="1848.8" y="217.2" width="80" height="32.8" rx="5" fill="#fff" stroke="#e0e3eb" stroke-width="1.2"/>
<text x="1852.31" y="238.65" font-size="16.4" fill="#131722" textLength="29.18" lengthAdjust="spacingAndGlyphs" stroke="#131722" stroke-width="0.3" stroke-linejoin="round">USD</text>
<path d="M1909.2 231.5 l3.4 2.97 l3.4 -2.97" fill="none" stroke="#131722" stroke-width="1.7" stroke-linecap="round" stroke-linejoin="round"/>
<rect x="1842" y="851.2" width="78" height="21.6" fill="#ef5350"/>
<text x="1852.81" y="867.35" font-size="15.6" fill="#fff" textLength="63.49" lengthAdjust="spacingAndGlyphs" stroke="#fff" stroke-width="0.3" stroke-linejoin="round">436.611K</text>
<rect x="1771.7" y="465.3" width="69.4" height="22" rx="2.5" fill="#f23645"/>
<rect x="1842" y="465.3" width="71.4" height="22" rx="2.5" fill="#f23645"/>
<rect x="1838" y="465.3" width="3.1" height="22" fill="#f23645"/><rect x="1842" y="465.3" width="4" height="22" fill="#f23645"/>
<text x="1776.25" y="481.25" font-size="15.6" fill="#fff" textLength="59.28" lengthAdjust="spacingAndGlyphs" stroke="#fff" stroke-width="0.3" stroke-linejoin="round">GBPUSD</text>
<text x="1852.41" y="481.25" font-size="15.6" fill="#fff" textLength="54.92" lengthAdjust="spacingAndGlyphs" stroke="#fff" stroke-width="0.3" stroke-linejoin="round">1.27233</text>
<rect x="0" y="948.8" width="1920" height="1.9" fill="#000"/>
<clipPath id="cb"><rect x="1780" y="915" width="62.1" height="33.8"/></clipPath><g clip-path="url(#cb)"><circle cx="1811.9" cy="936.3" r="14.2" fill="#fff"/><path d="M1817.2 924.6 A12.9 12.9 0 1 0 1822.6 943.6" fill="none" stroke="#9c27b0" stroke-width="1.9" stroke-linecap="round"/><path d="M1816.2 930.6 L1807.2 938.2 H1812.6 L1808.4 944.6 L1818 936.6 H1812.6z" fill="#9c27b0"/><circle cx="1831.3" cy="936.5" r="13.6" fill="#fff"/><circle cx="1831.3" cy="936.5" r="12.4" fill="#fff" stroke="#f23645" stroke-width="1.7"/><clipPath id="cf"><circle cx="1831.6" cy="936.8" r="10.2"/></clipPath><g clip-path="url(#cf)"><rect x="1820" y="925" width="24" height="24" fill="#fff"/><path d="M1820 929 H1844 M1820 937.6 H1844 M1820 945.6 H1844" stroke="#ef5350" stroke-width="3.9"/><rect x="1820" y="926" width="14.9" height="13.7" fill="#1e88e5"/><path d="M1824.2 930.4h.1M1827.9 930.4h.1M1831.6 930.4h.1M1824.2 934h.1M1827.9 934h.1M1831.6 934h.1M1824.2 937.4h.1M1827.9 937.4h.1M1831.6 937.4h.1" stroke="#fff" stroke-width="1.5" stroke-linecap="round"/></g><circle cx="1821.2" cy="927.4" r="2.6" fill="#f23645"/></g>
<g stroke="#fff" stroke-width="2.6" stroke-linejoin="round" fill="#131722"><path d="M12.1 916.9 H27.8 V936.2 H20.8 V923.9 H12.1z"/><circle cx="35" cy="920.4" r="3.8"/><path d="M43.9 916.9 H51.9 L43.9 936.2 H35.8z"/></g><g fill="#131722"><path d="M12.1 916.9 H27.8 V936.2 H20.8 V923.9 H12.1z"/><circle cx="35" cy="920.4" r="3.8"/><path d="M43.9 916.9 H51.9 L43.9 936.2 H35.8z"/></g>
</g>
<g id="annotations">
<rect x="723" y="131.2" width="465" height="71.3" rx="11" fill="#000"/>
<text x="767.52" y="180.10" font-size="35.2" fill="#fff" stroke="#fff" stroke-width="0.9" stroke-linejoin="round" style="font-family:'DejaVu Sans Light','DejaVu Sans',sans-serif;font-weight:200" textLength="51.65" lengthAdjust="spacingAndGlyphs">Big</text><text x="827.11" y="180.10" font-size="35.2" fill="#fff" stroke="#fff" stroke-width="0.9" stroke-linejoin="round" style="font-family:'DejaVu Sans Light','DejaVu Sans',sans-serif;font-weight:200" textLength="75.91" lengthAdjust="spacingAndGlyphs">Wins</text><text x="909.26" y="180.10" font-size="35.2" fill="#fff" stroke="#fff" stroke-width="0.9" stroke-linejoin="round" style="font-family:'DejaVu Sans Light','DejaVu Sans',sans-serif;font-weight:200" textLength="25.19" lengthAdjust="spacingAndGlyphs">–</text><text x="940.92" y="180.10" font-size="35.2" fill="#fff" stroke="#fff" stroke-width="0.9" stroke-linejoin="round" style="font-family:'DejaVu Sans Light','DejaVu Sans',sans-serif;font-weight:200" textLength="86.80" lengthAdjust="spacingAndGlyphs">Small</text><text x="1035.30" y="180.10" font-size="35.2" fill="#fff" stroke="#fff" stroke-width="0.9" stroke-linejoin="round" style="font-family:'DejaVu Sans Light','DejaVu Sans',sans-serif;font-weight:200" textLength="109.63" lengthAdjust="spacingAndGlyphs">Losses</text>
<rect x="0" y="622" width="113" height="44.3" rx="7" fill="#548235"/>
<text x="31.35" y="653" font-size="24.3" font-weight="700" fill="#fff" stroke="#fff" stroke-width="0.4" textLength="50.63" lengthAdjust="spacingAndGlyphs">WIN</text>
<rect x="246" y="577" width="113" height="44.3" rx="7" fill="#548235"/>
<text x="277.35" y="608" font-size="24.3" font-weight="700" fill="#fff" stroke="#fff" stroke-width="0.4" textLength="50.63" lengthAdjust="spacingAndGlyphs">WIN</text>
<rect x="112" y="785.5" width="113" height="44.3" rx="7" fill="#548235"/>
<text x="143.35" y="816.5" font-size="24.3" font-weight="700" fill="#fff" stroke="#fff" stroke-width="0.4" textLength="50.63" lengthAdjust="spacingAndGlyphs">WIN</text>
<rect x="432" y="767.3" width="113" height="44.3" rx="7" fill="#548235"/>
<text x="463.35" y="798.3" font-size="24.3" font-weight="700" fill="#fff" stroke="#fff" stroke-width="0.4" textLength="50.63" lengthAdjust="spacingAndGlyphs">WIN</text>
<rect x="659.2" y="451.2" width="113" height="44.3" rx="7" fill="#548235"/>
<text x="690.55" y="482.2" font-size="24.3" font-weight="700" fill="#fff" stroke="#fff" stroke-width="0.4" textLength="50.63" lengthAdjust="spacingAndGlyphs">WIN</text>
<rect x="844" y="591.3" width="113" height="44.3" rx="7" fill="#548235"/>
<text x="875.35" y="622.3" font-size="24.3" font-weight="700" fill="#fff" stroke="#fff" stroke-width="0.4" textLength="50.63" lengthAdjust="spacingAndGlyphs">WIN</text>
<rect x="1108" y="341.3" width="113" height="44.3" rx="7" fill="#548235"/>
<text x="1139.35" y="372.3" font-size="24.3" font-weight="700" fill="#fff" stroke="#fff" stroke-width="0.4" textLength="50.63" lengthAdjust="spacingAndGlyphs">WIN</text>
<rect x="1571.5" y="729.8" width="113" height="44.3" rx="7" fill="#548235"/>
<text x="1602.85" y="760.8" font-size="24.3" font-weight="700" fill="#fff" stroke="#fff" stroke-width="0.4" textLength="50.63" lengthAdjust="spacingAndGlyphs">WIN</text>
<rect x="774" y="484.2" width="113" height="44.3" rx="7" fill="#ff0000"/>
<text x="801.36" y="515.2" font-size="24.3" font-weight="700" fill="#fff" stroke="#fff" stroke-width="0.4" textLength="56.32" lengthAdjust="spacingAndGlyphs">LOSS</text>
<rect x="728" y="668.2" width="113" height="44.3" rx="7" fill="#ff0000"/>
<text x="755.36" y="699.2" font-size="24.3" font-weight="700" fill="#fff" stroke="#fff" stroke-width="0.4" textLength="56.32" lengthAdjust="spacingAndGlyphs">LOSS</text>
<path d="M23.45 793.46 L56.32 817.65 L50.21 824.26 L79 829 L65.91 802.92 L61.41 810.72 L28.55 786.54z M120.04 749.95 L178.07 666.01 L184.86 671.92 L188.75 643 L163.07 656.85 L171 661.12 L112.96 745.05z M253.28 694.83 L345.92 770.51 L339.48 776.81 L368 783 L356.25 756.29 L351.36 763.85 L258.72 688.17z M459.64 719.94 L608.53 561.18 L614.38 568.03 L622.5 540 L595.05 549.9 L602.26 555.29 L453.36 714.06z M716.76 617.54 L738.29 639.1 L731.25 644.72 L759 653.75 L750 625.99 L744.38 633.02 L722.84 611.46z M869.86 558.68 L1005.02 389.23 L1011.4 395.59 L1017.25 367 L990.68 379.06 L998.3 383.86 L863.14 553.32z M1086.34 468.41 L1324.3 726.77 L1317.04 732.1 L1344.4 742.25 L1336.53 714.15 L1330.63 720.95 L1092.66 462.59z M1551.51 616.82 L1733.45 438.57 L1739 445.66 L1748.3 418 L1720.46 426.73 L1727.43 432.42 L1545.49 610.68z" fill="#000"/>
</g>
</svg>
</body></html>
